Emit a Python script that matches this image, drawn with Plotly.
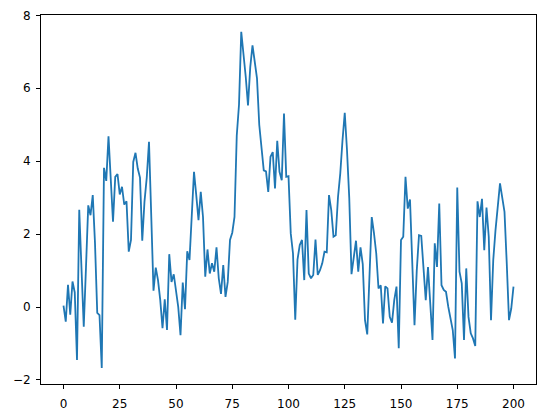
import plotly.graph_objects as go

# Series values (index 0..200)
values = [
    0.04, -0.40, 0.61, -0.21, 0.70, 0.40, -1.45, 2.67, 1.05, -0.54,
    1.10, 2.79, 2.52, 3.07, 1.75, -0.16, -0.22, -1.67, 3.82, 3.46,
    4.68, 3.50, 2.34, 3.57, 3.65, 3.09, 3.30, 2.81, 2.90, 1.52,
    1.84, 3.98, 4.23, 3.80, 3.55, 1.82, 2.90, 3.55, 4.53, 2.50,
    0.45, 1.08, 0.74, 0.19, -0.58, 0.21, -0.63, 1.45, 0.69, 0.90,
    0.45, 0.00, -0.77, 0.67, -0.06, 1.53, 1.29, 2.50, 3.71, 3.07,
    2.38, 3.16, 2.47, 0.83, 1.58, 0.92, 1.20, 0.97, 1.64, 0.79,
    0.36, 1.15, 0.28, 0.69, 1.84, 2.04, 2.47, 4.70, 5.55, 7.55,
    6.99, 6.31, 5.53, 6.58, 7.18, 6.77, 6.27, 5.00, 4.30, 3.75,
    3.72, 3.16, 4.12, 4.25, 3.25, 4.56, 3.71, 3.48, 5.31, 3.57,
    3.59, 2.02, 1.47, -0.35, 1.30, 1.70, 1.84, 0.74, 2.66, 0.92,
    0.79, 0.88, 1.85, 0.88, 1.01, 1.20, 1.52, 1.50, 3.07, 2.66,
    1.93, 1.97, 3.02, 3.66, 4.57, 5.33, 4.30, 3.00, 0.90, 1.35,
    1.82, 0.97, 1.64, 1.18, -0.36, -0.75, 0.65, 2.47, 2.02, 1.47,
    0.51, 0.60, -0.45, 0.57, 0.51, -0.27, -0.43, 0.19, 0.56, -1.13,
    1.84, 1.93, 3.57, 2.70, 2.95, 1.20, -0.50, 1.00, 1.97, 1.95,
    1.10, 0.19, 1.10, 0.10, -0.90, 1.75, 1.10, 2.84, 0.60, 0.47,
    0.42, 0.01, -0.27, -0.63, -1.41, 3.28, 0.97, 0.65, -0.90, 1.06,
    -0.27, -0.72, -0.86, -1.07, 2.90, 2.47, 2.97, 1.56, 2.73, 1.93,
    -0.36, 1.29, 2.11, 2.75, 3.39, 3.00, 2.61, 1.20, -0.36, -0.04,
    0.56,
]
x_index = list(range(len(values)))

x_ticks = [0, 25, 50, 75, 100, 125, 150, 175, 200]
y_ticks = [-2, 0, 2, 4, 6, 8]

fig = go.Figure()
fig.add_trace(go.Scatter(
    x=x_index, y=values, mode="lines",
    line=dict(color="#1f77b4", width=1.8),
    showlegend=False, hoverinfo="skip",
))

axis_common = dict(
    showgrid=False, zeroline=False,
    showline=True, linecolor="black", linewidth=1, mirror=True,
    ticks="outside", ticklen=4, tickwidth=1, tickcolor="black",
    tickfont=dict(family="DejaVu Sans", size=12, color="black"),
)

fig.update_layout(
    width=546, height=418,
    margin=dict(l=41, r=10, t=15, b=34, autoexpand=False),
    paper_bgcolor="white", plot_bgcolor="white",
    xaxis=dict(range=[-10, 210], tickvals=x_ticks, ticklabelstandoff=5,
               automargin=False, **axis_common),
    yaxis=dict(range=[-2.11, 8.01], tickvals=y_ticks, ticklabelstandoff=3,
               automargin=False, **axis_common),
)

fig.write_html("out.html")
